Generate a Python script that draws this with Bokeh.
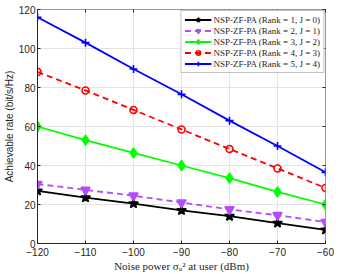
from bokeh.plotting import figure
from bokeh.models import LinearAxis, Range1d, FixedTicker
from bokeh.embed import file_html
from bokeh.resources import INLINE

noise = [-120, -110, -100, -90, -80, -70, -60]
rank1 = [27.0, 23.5, 20.5, 17.0, 14.0, 10.5, 7.0]
rank2 = [30.5, 27.5, 24.5, 21.0, 17.5, 14.5, 11.0]
rank3 = [60.0, 53.0, 46.5, 40.0, 33.5, 26.5, 20.0]
rank4 = [88.0, 78.5, 68.5, 58.5, 48.5, 38.5, 28.5]
rank5 = [116.0, 103.0, 89.5, 76.5, 63.0, 50.0, 36.5]
labels = ["NSP-ZF-PA (Rank = 1, J = 0)", "NSP-ZF-PA (Rank = 2, J = 1)",
          "NSP-ZF-PA (Rank = 3, J = 2)", "NSP-ZF-PA (Rank = 4, J = 3)",
          "NSP-ZF-PA (Rank = 5, J = 4)"]
xticks = [-120, -110, -100, -90, -80, -70, -60]
yticks = [0, 20, 40, 60, 80, 100, 120]

p = figure(width=351, height=274, output_backend="svg", toolbar_location=None,
           x_range=Range1d(-120, -60), y_range=Range1d(0, 120),
           min_border_top=9, min_border_right=26, min_border_left=30, min_border_bottom=0)
p.background_fill_color = "white"
p.border_fill_color = "white"
p.outline_line_color = "#999999"
p.outline_line_width = 1

axis_color = "#262626"
for ax in [p.xaxis[0], p.yaxis[0]]:
    ax.major_tick_in = 3
    ax.major_tick_out = 0
    ax.minor_tick_line_color = None
    ax.axis_line_color = axis_color
    ax.major_tick_line_color = axis_color
    ax.major_label_text_color = axis_color
    ax.major_label_text_font = "Liberation Sans"
    ax.major_label_text_font_size = "10px"
    ax.major_label_text_line_height = 1.0
    ax.major_label_standoff = 2
    ax.axis_label_text_line_height = 1.0
p.xaxis.major_label_standoff = 4
p.xaxis.axis_label_standoff = 1
p.yaxis.axis_label_standoff = 1
p.xaxis.ticker = FixedTicker(ticks=xticks)
p.yaxis.ticker = FixedTicker(ticks=yticks)
p.xaxis.axis_label = "Noise power σᵤ² at user (dBm)"
p.xaxis.axis_label_text_font = "Liberation Serif"
p.xaxis.axis_label_text_font_style = "normal"
p.xaxis.axis_label_text_font_size = "11px"
p.xaxis.axis_label_text_color = axis_color
p.yaxis.axis_label = "Achievable rate (bit/s/Hz)"
p.yaxis.axis_label_text_font = "Liberation Sans"
p.yaxis.axis_label_text_font_style = "normal"
p.yaxis.axis_label_text_font_size = "10px"
p.yaxis.axis_label_text_color = axis_color

p.xgrid.ticker = FixedTicker(ticks=xticks)
p.ygrid.ticker = FixedTicker(ticks=yticks)
p.grid.grid_line_color = "#E3E3E3"
p.grid.grid_line_width = 1

for loc, tk in [("above", xticks), ("right", yticks)]:
    ax = LinearAxis(ticker=FixedTicker(ticks=tk))
    ax.major_tick_in = 3
    ax.major_tick_out = 0
    ax.minor_tick_line_color = None
    ax.axis_line_color = None
    ax.major_tick_line_color = axis_color
    ax.major_label_overrides = {t: "" for t in tk}
    ax.major_label_text_font_size = "1px"
    ax.major_label_standoff = 0
    p.add_layout(ax, loc)

series = [
    (rank1, "black", "solid", "star", 10, "black"),
    (rank2, "#B44CFF", "6 4", "inverted_triangle", 9, "#B44CFF"),
    (rank3, "#00FF00", "solid", "diamond", 10, "#00FF00"),
    (rank4, "#FF0000", "6 4", "circle", 7, None),
    (rank5, "#0000FF", "solid", "cross", 8, None),
]
for (vals, col, dash, mk, sz, fill), lab in zip(series, labels):
    p.line(noise, vals, line_color=col, line_width=1.8, line_dash=dash, legend_label=lab)
    p.scatter(noise, vals, marker=mk, size=sz, line_color=col, line_width=1.6,
              fill_color=fill if fill else "white", fill_alpha=1.0 if fill else 0.0,
              legend_label=lab)

lg = p.legend[0]
lg.location = "top_right"
lg.margin = 1
lg.padding = 3
lg.spacing = 0
lg.glyph_width = 27
lg.glyph_height = 11
lg.label_height = 11
lg.label_standoff = 2
lg.label_text_font = "Liberation Serif"
lg.label_text_font_size = "9px"
lg.label_text_color = axis_color
lg.border_line_color = "#888888"
lg.border_line_width = 1
lg.background_fill_color = "white"
lg.background_fill_alpha = 1.0

open("out.html", "w").write(file_html(p, INLINE))
